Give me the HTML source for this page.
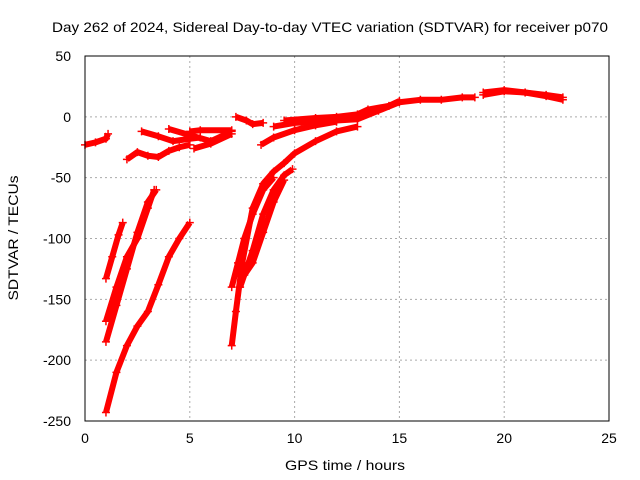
<!DOCTYPE html>
<html><head><meta charset="utf-8"><style>
body{margin:0;background:#fff}
svg{display:block;font-family:"Liberation Sans",sans-serif}
</style></head><body>
<svg id="chart" width="640" height="480">
<text x="330" y="32" font-size="14" text-anchor="middle" textLength="556" lengthAdjust="spacingAndGlyphs">Day 262 of 2024, Sidereal Day-to-day VTEC variation (SDTVAR) for receiver p070</text>
<text x="345" y="470" font-size="14" text-anchor="middle" textLength="120" lengthAdjust="spacingAndGlyphs">GPS time / hours</text>
<text transform="translate(18,238) rotate(-90)" font-size="14" text-anchor="middle" textLength="125" lengthAdjust="spacingAndGlyphs">SDTVAR / TECUs</text>
<g id="grid"></g><g id="marks"></g><g id="axes"></g>
</svg>
<script>
const xTicks=[0,5,10,15,20,25];
const yTicks=[50,0,-50,-100,-150,-200,-250];
const seriesA=[[0,-23],[0.5,-21],[1,-18],[1.1,-14]];
const seriesB=[[2,-35],[2.5,-29],[3,-32],[3.5,-33],[4,-28],[4.5,-25],[5,-23]];
const seriesC=[[2.7,-12],[3.5,-16],[4.2,-20],[5,-18],[5.5,-17]];
const seriesD=[[4,-10],[5,-15],[6,-20],[7,-12]];
const seriesE=[[5.2,-26],[6,-22],[7,-14]];
const seriesF=[[5,-12],[5.5,-11],[7,-11]];
const seriesG=[[7.2,0],[7.7,-3],[8,-6],[8.5,-5]];
const seriesH=[[9,-8],[10,-5],[11,-4],[12,-3],[13,-2],[14,5],[15,12],[16,14],[17,14],[18,16],[18.6,16]];
const seriesI=[[9.5,-3],[11,-1],[12,0],[13,2],[13.5,6],[14.5,9],[15,13]];
const seriesJ=[[19,20],[20,22],[21,20],[22,17],[22.8,14]];
const seriesK=[[19,18],[20,21],[21,20],[22,18],[22.8,16]];
const seriesL=[[1,-133],[1.3,-115],[1.6,-97],[1.8,-87]];
const seriesM=[[1,-168],[1.5,-140],[2,-115],[2.5,-100],[3,-75],[3.3,-60]];
const seriesN=[[1,-185],[1.5,-155],[2,-125],[2.5,-95],[3,-70],[3.4,-60]];
const seriesO=[[1,-243],[1.5,-210],[2,-188],[2.5,-172],[3,-160],[3.5,-138],[4,-115],[4.5,-100],[5,-87]];
const seriesP=[[7,-188],[7.2,-160],[7.5,-120],[8,-75],[8.5,-55],[9,-45],[9.5,-38],[10,-30],[11,-20],[12,-12],[13,-8]];
const seriesQ=[[7,-140],[7.3,-120],[7.6,-100],[8,-80],[8.5,-60],[9,-50]];
const seriesR=[[7.4,-140],[8,-110],[8.5,-80],[9,-60],[9.5,-48],[9.9,-43]];
const seriesS=[[7.6,-130],[8,-120],[8.5,-95],[9,-70],[9.5,-52]];
const seriesT=[[8.4,-23],[9,-17],[10,-11],[11,-7],[12,-4]];
const allSeries=[seriesA,seriesB,seriesC,seriesD,seriesE,seriesF,seriesG,seriesH,seriesI,seriesJ,seriesK,seriesL,seriesM,seriesN,seriesO,seriesP,seriesQ,seriesR,seriesS,seriesT];
const L=85,R=609,T=56,B=421;
const sx=v=>L+(v-0)/25*(R-L);
const sy=v=>T+(50-v)/300*(B-T);
const NS="http://www.w3.org/2000/svg";
function mk(tag,attrs,parent){const e=document.createElementNS(NS,tag);for(const k in attrs)e.setAttribute(k,attrs[k]);parent.appendChild(e);return e;}
const grid=document.getElementById('grid'),axes=document.getElementById('axes'),marks=document.getElementById('marks');
xTicks.forEach(t=>{
 if(t>0&&t<25){const g=mk('line',{x1:sx(t),x2:sx(t),y1:T,y2:B,stroke:'#aaa','stroke-dasharray':'2,3'},grid);
 
 }
 const tx=mk('text',{x:sx(t),y:B+22,'font-size':14,'text-anchor':'middle'},axes);tx.textContent=t;
 
 
});
yTicks.forEach(t=>{
 if(t<50&&t>-250){const g=mk('line',{x1:L,x2:R,y1:sy(t),y2:sy(t),stroke:'#aaa','stroke-dasharray':'2,3'},grid);
 
 }
 const tx=mk('text',{x:L-14,y:sy(t)+5,'font-size':14,'text-anchor':'end'},axes);tx.textContent=t;
 
 
});
const box=mk('rect',{x:L,y:T,width:R-L,height:B-T,fill:'none',stroke:'#000'},axes);


allSeries.forEach((s,i)=>{
 const p=mk('polyline',{points:s.map(d=>sx(d[0])+','+sy(d[1])).join(' '),fill:'none',stroke:'#f00','stroke-width':6,'stroke-linejoin':'round'},marks);
 
 
 s.forEach(d=>{const m=mk('path',{d:`M${sx(d[0])-4},${sy(d[1])}h8M${sx(d[0])},${sy(d[1])-4}v8`,stroke:'#f00','stroke-width':1.5},marks);
 
 });
});
</script>
</body></html>
